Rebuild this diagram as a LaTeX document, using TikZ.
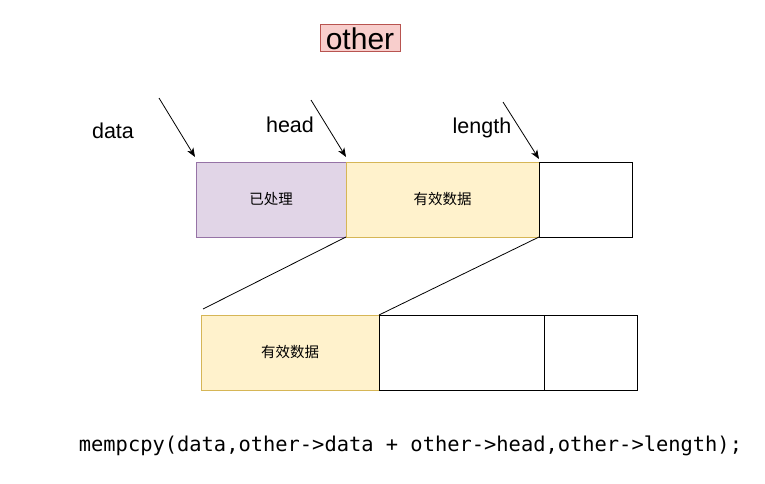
\documentclass[tikz,border=0pt]{standalone}
\usepackage{fontspec}
\setmainfont{Liberation Sans}
\newfontfamily\cjk{Noto Sans CJK SC}
\newfontfamily\codefont{DejaVu Sans Mono}
\usetikzlibrary{arrows.meta}
\definecolor{purpfill}{HTML}{E1D5E7}
\definecolor{purpline}{HTML}{9673A6}
\definecolor{yelfill}{HTML}{FFF2CC}
\definecolor{yelline}{HTML}{D6B656}
\definecolor{redfill}{HTML}{F8CECC}
\definecolor{redline}{HTML}{B85450}
\tikzset{
  cell/.style={draw, line width=1pt, minimum height=75pt, inner sep=0pt, outer sep=0pt, anchor=north west},
  purpcell/.style={cell, fill=purpfill, draw=purpline},
  yelcell/.style={cell, fill=yelfill, draw=yelline},
  whitecell/.style={cell, fill=white, draw=black},
  ptr/.style={-{Stealth[length=9pt,width=7pt,inset=2.5pt]}, line width=0.8pt},
  lbl/.style={font=\fontsize{21.5}{24}\selectfont, inner sep=0pt},
  link/.style={line width=0.8pt}
}
\begin{document}
\begin{tikzpicture}[x=1pt,y=-1pt]
\useasboundingbox (0,0) rectangle (765,484);
% other label
\node[fill=redfill, draw=redline, line width=1pt, minimum width=80pt, minimum height=27pt, inner sep=0pt,
      font=\fontsize{30}{32}\selectfont] (other) at (360,38.5) {other};
% top row
\node[purpcell, minimum width=150pt] (proc) at (196,162) {};
\node[font=\cjk\fontsize{14.5}{16}\selectfont] (proct) at (proc.center) {已处理};
\node[yelcell, minimum width=193pt] (valid) at (346,162) {};
\node[font=\cjk\fontsize{14.5}{16}\selectfont] (validt) at (valid.center) {有效数据};
\node[whitecell, minimum width=93pt] (free) at (539,162) {};
% bottom row
\node[yelcell, minimum width=178pt] (nvalid) at (201,315) {};
\node[font=\cjk\fontsize{14.5}{16}\selectfont] (nvalidt) at (nvalid.center) {有效数据};
\node[whitecell, minimum width=165pt] (nfree1) at (379,315) {};
\node[whitecell, minimum width=93pt] (nfree2) at (544,315) {};
% labels
\node[lbl] (ldata) at (113,131) {data};
\node[lbl] (lhead) at (290,125) {head};
\node[lbl] (llen) at (482,128) {length};
% pointers
\coordinate (pd) at (159,98);
\coordinate (ph) at (311,100);
\coordinate (pl) at (503,102);
\coordinate (td) at (195,157);
\coordinate (th) at (346,157);
\coordinate (tl) at (539,159);
\draw[ptr] (pd) -- (td);
\draw[ptr] (ph) -- (th);
\draw[ptr] (pl) -- (tl);
% copy lines
\coordinate (ce) at (203,309);
\draw[link] (valid.south west) -- (ce);
\draw[link] (valid.south east) -- (nvalid.north east);
% code
\node[font=\codefont\fontsize{20.4}{22}\selectfont, inner sep=0pt] (code) at (410.5,446) {mempcpy(data,other->data + other->head,other->length);};
\end{tikzpicture}
\end{document}
